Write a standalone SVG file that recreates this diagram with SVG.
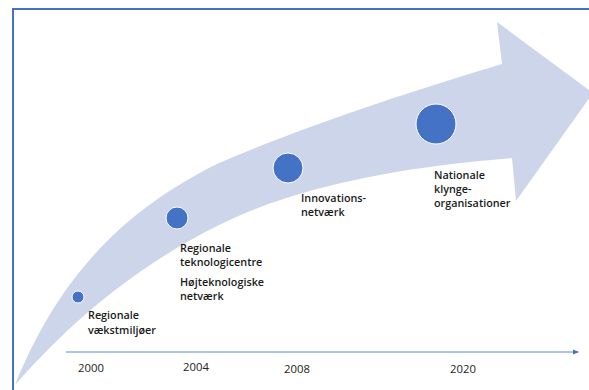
<svg xmlns="http://www.w3.org/2000/svg" width="589" height="390" viewBox="0 0 589 390">
<defs>
<style>
.lbl{font-family:"Open Sans","Liberation Sans",sans-serif;font-weight:600;font-size:10.8px;fill:#1a1a1a}
.yr{font-family:"Open Sans","Liberation Sans",sans-serif;font-size:11.3px;fill:#222}
.dot{fill:#4472C4;stroke:#ffffff;stroke-width:1}
</style>
<marker id="ah" markerWidth="6" markerHeight="6" refX="5" refY="3" orient="auto" markerUnits="userSpaceOnUse">
<path d="M0,0.5 L6,3 L0,5.5 Z" fill="#4472C4"/>
</marker>
</defs>
<rect x="0" y="0" width="589" height="390" fill="#ffffff"/>
<path d="M13,390 L13,9 L589,9" fill="none" stroke="#4472C4" stroke-width="2"/>
<g id="band">
<path d="M15,385 C60,274 125,210 217,164 C300,128 405,93 502,64 L497,22 L593,93 L516,201 L512,158 C410,166 300,184 217,226 C137,266 71,321 15,385 Z" fill="#CDD5EA"/>
</g>
<g id="connectors">
<line x1="66" y1="352" x2="578" y2="352" stroke="#5B8BD0" stroke-width="1" marker-end="url(#ah)"/>
</g>
<g id="node1">
<circle class="dot" cx="78" cy="297" r="6"/>
<text class="lbl" x="88" y="319">Regionale</text>
<text class="lbl" x="88" y="334">vækstmiljøer</text>
</g>
<g id="node2">
<circle class="dot" cx="177" cy="218" r="11"/>
<text class="lbl" x="180" y="252">Regionale</text>
<text class="lbl" x="180" y="266">teknologicentre</text>
<text class="lbl" x="180" y="286">Højteknologiske</text>
<text class="lbl" x="180" y="300">netværk</text>
</g>
<g id="node3">
<circle class="dot" cx="288" cy="168" r="15"/>
<text class="lbl" x="301" y="202">Innovations-</text>
<text class="lbl" x="301" y="216">netværk</text>
</g>
<g id="node4">
<circle class="dot" cx="436" cy="124" r="20"/>
<text class="lbl" x="434" y="179">Nationale</text>
<text class="lbl" x="434" y="193">klynge-</text>
<text class="lbl" x="434" y="207">organisationer</text>
</g>
<g id="years">
<text class="yr" x="78" y="372">2000</text>
<text class="yr" x="183" y="371">2004</text>
<text class="yr" x="284" y="373">2008</text>
<text class="yr" x="450" y="373">2020</text>
</g>
</svg>
